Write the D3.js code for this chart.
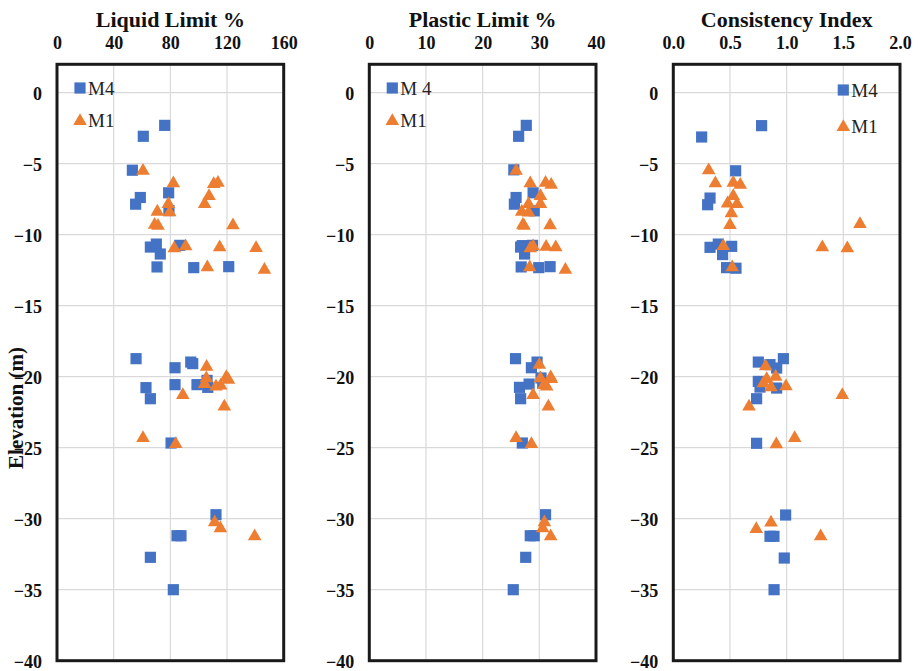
<!DOCTYPE html>
<html>
<head>
<meta charset="utf-8">
<script src="https://cdn.jsdelivr.net/npm/d3@7/dist/d3.min.js"></script>
<style>
  html, body { margin: 0; padding: 0; background: #fff; }
  svg { display: block; }
</style>
</head>
<body>
<svg id="chart" width="922" height="671"></svg>
<script>
// Elevation ticks shared by all three profiles
const elevTicks = [0, -5, -10, -15, -20, -25, -30, -35, -40];

// Liquid limit (%) vs elevation (m): [value, elevation]
const llM4 = [
  [76.0, -2.3], [60.9, -3.07], [53.2, -5.46], [78.8, -7.05], [58.8, -7.38], [55.5, -7.85],
  [79.0, -8.3], [65.9, -10.87], [70.1, -10.66], [72.9, -11.36], [86.6, -10.75], [70.6, -12.27],
  [96.5, -12.32], [121.2, -12.25],
  [55.8, -18.73], [83.3, -19.37], [94.4, -18.97], [95.8, -19.08], [83.3, -20.56], [62.8, -20.77],
  [65.9, -21.55], [98.8, -20.56], [105.9, -20.26], [106.4, -20.75], [80.5, -24.67],
  [112.2, -29.72], [84.7, -31.2], [87.5, -31.2], [65.9, -32.72], [82.1, -35.0]
];
const llM1 = [
  [60.7, -5.43], [82.1, -6.32], [110.6, -6.37], [113.6, -6.28], [107.3, -7.21], [104.2, -7.78],
  [78.6, -7.78], [79.5, -8.36], [70.8, -8.31], [68.9, -9.23], [71.3, -9.3], [124.2, -9.27],
  [82.8, -10.89], [90.8, -10.75], [114.8, -10.82], [140.5, -10.87], [106.1, -12.22], [146.4, -12.41],
  [105.6, -19.23], [105.4, -20.05], [104.2, -20.45], [112.2, -20.63], [115.5, -20.56],
  [119.5, -19.95], [121.0, -20.15], [88.8, -21.22], [118.1, -22.04], [60.7, -24.25], [83.8, -24.67],
  [111.3, -30.19], [115.3, -30.61], [139.5, -31.17]
];

// Plastic limit (%) vs elevation (m)
const plM4 = [
  [27.7, -2.3], [26.35, -3.07], [25.5, -5.43], [28.9, -7.05], [25.9, -7.38], [25.6, -7.85],
  [29.1, -8.32], [27.0, -10.77], [26.7, -10.87], [27.4, -11.36], [26.8, -12.27], [29.9, -12.32],
  [31.9, -12.25], [28.8, -10.75],
  [25.8, -18.73], [29.6, -18.97], [28.6, -19.37], [30.3, -20.09], [30.6, -20.45], [26.5, -20.75],
  [28.2, -20.52], [26.7, -21.55], [27.0, -24.67], [31.1, -29.72], [28.4, -31.2], [29.1, -31.2],
  [27.6, -32.72], [25.4, -35.0]
];
const plM1 = [
  [25.9, -5.43], [28.4, -6.32], [31.1, -6.28], [32.1, -6.42], [30.2, -7.21], [30.2, -7.78],
  [28.1, -7.78], [28.1, -8.38], [26.9, -8.31], [27.1, -9.23], [27.3, -9.3], [31.9, -9.27],
  [28.4, -10.89], [28.9, -10.75], [31.2, -10.78], [32.9, -10.82], [28.3, -12.22], [34.6, -12.41],
  [30.0, -19.1], [30.2, -20.05], [32.0, -19.98], [30.8, -20.52], [31.3, -20.63], [32.1, -20.1],
  [28.9, -21.22], [31.6, -22.04], [25.9, -24.25], [28.6, -24.67],
  [30.9, -30.19], [30.6, -30.61], [32.0, -31.17]
];

// Consistency index vs elevation (m)
const ciM4 = [
  [0.779, -2.32], [0.25, -3.12], [0.55, -5.5], [0.324, -7.42], [0.303, -7.89],
  [0.324, -10.89], [0.397, -10.66], [0.515, -10.82], [0.435, -11.4], [0.47, -12.32], [0.553, -12.36],
  [0.75, -18.97], [0.971, -18.73], [0.853, -19.15], [0.912, -19.39], [0.75, -20.33], [0.765, -20.73],
  [0.912, -20.8], [0.735, -21.55], [0.735, -24.69], [0.991, -29.74], [0.853, -31.24], [0.888, -31.24],
  [0.979, -32.77], [0.889, -35.0]
];
const ciM1 = [
  [0.312, -5.39], [0.371, -6.32], [0.529, -6.28], [0.591, -6.42], [0.529, -7.21], [0.479, -7.73],
  [0.562, -7.78], [0.512, -8.43], [0.5, -9.25], [1.647, -9.18], [1.315, -10.82], [1.535, -10.89],
  [0.441, -10.73], [0.52, -12.22],
  [0.815, -19.2], [0.824, -20.09], [0.794, -20.4], [0.903, -19.93], [0.862, -20.68], [0.994, -20.61],
  [1.491, -21.22], [0.668, -22.04], [1.071, -24.25], [0.909, -24.69],
  [0.862, -30.21], [0.732, -30.66], [1.3, -31.17]
];

// Panel definitions
const panels = [
  { title: "Liquid Limit %", domain: [0, 160], ticks: [0, 40, 80, 120, 160], fmt: d3.format("d"),
    m4: llM4, m1: llM1, m4Label: "M4", m1Label: "M1", left: 57, legend: "left" },
  { title: "Plastic Limit %", domain: [0, 40], ticks: [0, 10, 20, 30, 40], fmt: d3.format("d"),
    m4: plM4, m1: plM1, m4Label: "M 4", m1Label: "M1", left: 369.3, legend: "left" },
  { title: "Consistency Index", domain: [0, 2], ticks: [0, 0.5, 1, 1.5, 2], fmt: d3.format(".1f"),
    m4: ciM4, m1: ciM1, m4Label: "M4", m1Label: "M1", left: 673.3, legend: "right" }
];

const W = 226.7;
const plotTop = 64.3, plotBottom = 660.7;
const blue = "#4472C4", orange = "#ED7D31";
const SERIF = '"Liberation Serif", "Times New Roman", "DejaVu Serif", serif';

const svg = d3.select("#chart");
const y = d3.scaleLinear().domain([-40, 2]).range([plotBottom, plotTop]);

const sq = d3.symbol().type(d3.symbolSquare).size(125);
const tri = d3.symbol().type(d3.symbolTriangle).size(80);

panels.forEach(p => {
  const x = d3.scaleLinear().domain(p.domain).range([p.left, p.left + W]);
  const g = svg.append("g");

  // grid
  g.append("g").selectAll("line").data(p.ticks).join("line")
    .attr("x1", d => x(d)).attr("x2", d => x(d))
    .attr("y1", plotTop).attr("y2", plotBottom)
    .attr("stroke", "#d9d9d9").attr("stroke-width", 1.2);
  g.append("g").selectAll("line").data(elevTicks).join("line")
    .attr("x1", p.left).attr("x2", p.left + W)
    .attr("y1", d => y(d)).attr("y2", d => y(d))
    .attr("stroke", "#d9d9d9").attr("stroke-width", 1.2);

  // top axis
  const xa = d3.axisTop(x).tickValues(p.ticks).tickFormat(p.fmt).tickSize(0).tickPadding(0);
  const xg = g.append("g").attr("transform", `translate(0,49)`).call(xa);
  xg.select(".domain").remove();
  xg.attr("font-family", null).attr("font-size", null);
  xg.selectAll("text").style("font-family", SERIF).style("font-weight", "bold")
    .style("font-size", "18px").attr("fill", "#111").attr("dy", 0);

  // left axis
  const ya = d3.axisLeft(y).tickValues(elevTicks).tickFormat(d3.format("d")).tickSize(0).tickPadding(0);
  const yg = g.append("g").attr("transform", `translate(${p.left - 15},0)`).call(ya);
  yg.select(".domain").remove();
  yg.attr("font-family", null).attr("font-size", null);
  yg.selectAll("text").style("font-family", SERIF).style("font-weight", "bold")
    .style("font-size", "18px").attr("fill", "#111").attr("dy", "0.35em");

  // title
  g.append("text").attr("x", p.left + W / 2).attr("y", 27)
    .attr("text-anchor", "middle").style("font-family", SERIF).style("font-weight", "bold")
    .style("font-size", "22px").attr("fill", "#111").text(p.title);

  // markers: M4 squares beneath M1 triangles
  g.append("g").selectAll("path").data(p.m4).join("path")
    .attr("d", sq).attr("transform", d => `translate(${x(d[0])},${y(d[1])})`)
    .attr("fill", blue);
  g.append("g").selectAll("path").data(p.m1).join("path")
    .attr("d", tri).attr("transform", d => `translate(${x(d[0])},${y(d[1]) + 1})`)
    .attr("fill", orange);

  // frame
  g.append("rect").attr("x", p.left).attr("y", plotTop).attr("width", W).attr("height", plotBottom - plotTop)
    .attr("fill", "none").attr("stroke", "#1a1a1a").attr("stroke-width", 3);

  // legend
  const lx = p.legend === "left" ? p.left + 23 : p.left + 170;
  const ly1 = p.legend === "left" ? 88 : 90;
  const ly2 = p.legend === "left" ? 120 : 126;
  const lg = g.append("g");
  lg.append("path").attr("d", sq).attr("transform", `translate(${lx},${ly1})`).attr("fill", blue);
  lg.append("path").attr("d", tri).attr("transform", `translate(${lx},${ly2 + 1})`).attr("fill", orange);
  lg.append("text").attr("x", lx + 8).attr("y", ly1).attr("dy", "0.35em")
    .style("font-family", SERIF).style("font-size", "19px").attr("fill", "#222").text(p.m4Label);
  lg.append("text").attr("x", lx + 8).attr("y", ly2).attr("dy", "0.35em")
    .style("font-family", SERIF).style("font-size", "19px").attr("fill", "#222").text(p.m1Label);
});

// shared vertical axis title
svg.append("text")
  .attr("transform", `translate(23,408) rotate(-90)`)
  .attr("text-anchor", "middle").style("font-family", SERIF).style("font-weight", "bold")
  .style("font-size", "21px").attr("fill", "#111").text("Elevation (m)");
</script>
</body>
</html>
